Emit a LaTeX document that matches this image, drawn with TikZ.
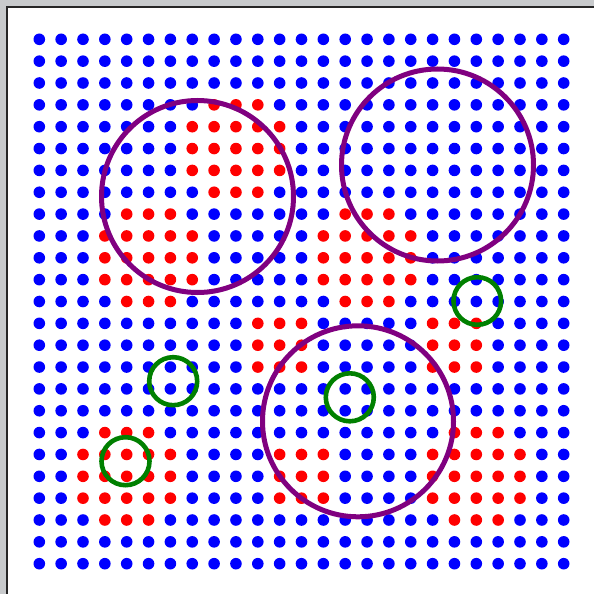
\documentclass[tikz,border=0pt]{standalone}
\definecolor{bgray}{RGB}{200,202,204}
\definecolor{dotblue}{RGB}{0,0,255}
\definecolor{dotred}{RGB}{255,0,0}
\definecolor{ringpurple}{RGB}{128,0,128}
\definecolor{ringgreen}{RGB}{0,128,0}
\newcommand\markredcell[2]{\expandafter\gdef\csname rd-#1-#2\endcsname{}}
\newcommand\blobfive[2]{%
  \foreach \ii in {0,...,4}{\foreach \jj in {0,...,4}{%
    \ifnum\numexpr(\ii-2)*(\ii-2)+(\jj-2)*(\jj-2)\relax<8
      \pgfmathtruncatemacro\rrr{#1+\ii}\pgfmathtruncatemacro\ccc{#2+\jj}%
      \markredcell{\rrr}{\ccc}%
    \fi}}}
\newcommand\blobthree[2]{%
  \foreach \ii in {0,...,2}{\foreach \jj in {0,...,2}{%
      \pgfmathtruncatemacro\rrr{#1+\ii}\pgfmathtruncatemacro\ccc{#2+\jj}%
      \markredcell{\rrr}{\ccc}}}}
\blobfive{3}{7}
\blobfive{8}{3}
\blobfive{8}{13}
\blobfive{18}{2}
\blobfive{18}{18}
\blobthree{13}{10}
\blobthree{13}{18}
\blobthree{19}{11}
\tikzset{
  bigring/.style={draw=ringpurple,line width=5pt},
  smallring/.style={draw=ringgreen,line width=4.6pt},
}
\begin{document}
\begin{tikzpicture}[x=1pt,y=-1pt]
\useasboundingbox (0,0) rectangle (594,594);
\fill[bgray] (0,0) rectangle (594,594);
\fill[white] (7,7) rectangle (594,594);
\draw[black!85,line width=2pt] (7,594) -- (7,7) -- (594,7);
\foreach \ry in {0,...,24}{\foreach \cx in {0,...,24}{%
  \ifcsname rd-\ry-\cx\endcsname\def\dotcol{dotred}\else\def\dotcol{dotblue}\fi
  \fill[\dotcol] (39.3+21.85*\cx,39.3+21.85*\ry) circle (5.8pt);
}}
\draw[bigring] (197.5,196.5) circle (96pt);
\draw[bigring] (437.5,165) circle (96pt);
\draw[bigring] (358,421.3) circle (95.5pt);
\draw[smallring] (477.3,301) circle (23.8pt);
\draw[smallring] (173.2,381.2) circle (24pt);
\draw[smallring] (125.5,461.2) circle (24pt);
\draw[smallring] (349.8,397.3) circle (24pt);
\end{tikzpicture}
\end{document}
